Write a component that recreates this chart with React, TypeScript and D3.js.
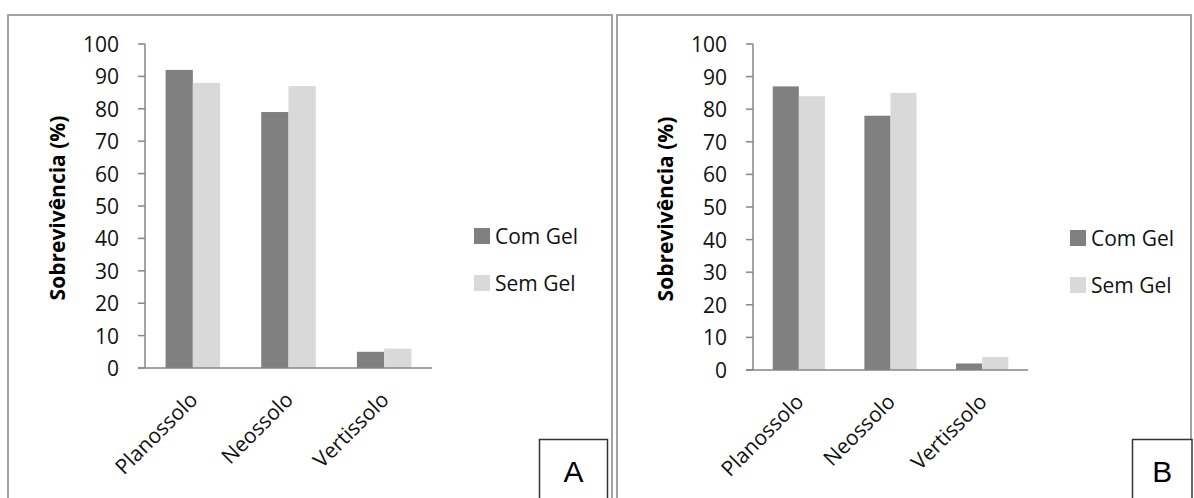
import React from "react";
import * as d3 from "d3";

const categories = ["Planossolo", "Neossolo", "Vertissolo"];
const seriesNames = ["Com Gel", "Sem Gel"];
const comGelA = [92, 79, 5];
const semGelA = [88, 87, 6];
const comGelB = [87, 78, 2];
const semGelB = [84, 85, 4];
const yTicks = [0, 10, 20, 30, 40, 50, 60, 70, 80, 90, 100];
const seriesColors = ["#808080", "#d9d9d9"];
const panelLetters = ["A", "B"];
const yTitle = "Sobrevivência (%)";

const FONT = "'Open Sans', 'Noto Sans', sans-serif";

type Layout = {
  px0: number; px1: number; top: number;
  ax0: number; ax1: number; yTop: number; yBot: number;
  legX: number; legY: number; titleX: number;
  boxX0: number; boxX1: number; boxTop: number;
};

const layouts: Layout[] = [
  { px0: 8, px1: 612, top: 15, ax0: 145, ax1: 432, yTop: 44, yBot: 368, legX: 474, legY: 228, titleX: 57, boxX0: 539.5, boxX1: 607.5, boxTop: 439.5 },
  { px0: 617, px1: 1191, top: 15, ax0: 753, ax1: 1028, yTop: 44, yBot: 370, legX: 1070, legY: 230, titleX: 665, boxX0: 1132.5, boxX1: 1192, boxTop: 439.5 },
];

function Panel({ L, values, letter }: { L: Layout; values: number[][]; letter: string }) {
  const y = d3.scaleLinear().domain([0, 100]).range([L.yBot, L.yTop]);
  const x0 = d3.scaleBand<string>().domain(categories).range([L.ax0, L.ax1]).paddingInner(0.43).paddingOuter(0.215);
  const x1 = d3.scaleBand<string>().domain(seriesNames).range([0, x0.bandwidth()]);
  const axisColor = "#868686";
  const textColor = "#111";
  return (
    <g>
      <rect x={L.px0} y={L.top} width={L.px1 - L.px0} height={600} fill="#fff" stroke="#a3a3a3" strokeWidth={2} />
      {categories.map((c, ci) =>
        seriesNames.map((s, si) => (
          <rect key={c + s} x={(x0(c) as number) + (x1(s) as number)} y={y(values[si][ci])}
            width={x1.bandwidth()} height={L.yBot - y(values[si][ci])} fill={seriesColors[si]} />
        ))
      )}
      <line x1={L.ax0} x2={L.ax0} y1={L.yTop} y2={L.yBot} stroke={axisColor} strokeWidth={1.5} />
      <line x1={L.ax0 - 7} x2={L.ax1} y1={L.yBot} y2={L.yBot} stroke={axisColor} strokeWidth={1.5} />
      {yTicks.map((t) => (
        <g key={t}>
          <line x1={L.ax0 - 7} x2={L.ax0} y1={y(t)} y2={y(t)} stroke={axisColor} strokeWidth={1.5} />
          <text x={L.ax0 - 26} y={y(t)} textAnchor="end" dominantBaseline="central" fontFamily={FONT} fontSize={21} fill={textColor}>{t}</text>
        </g>
      ))}
      {categories.map((c) => {
        const cx = (x0(c) as number) + x0.bandwidth() / 2 + 6;
        const cy = L.yBot + 33;
        return (
          <text key={c} x={cx} y={cy} transform={`rotate(-45 ${cx} ${cy})`} textAnchor="end" fontFamily={FONT} fontSize={21} fill={textColor}>{c}</text>
        );
      })}
      <text x={L.titleX} y={(L.yTop + L.yBot) / 2 + 2} transform={`rotate(-90 ${L.titleX} ${(L.yTop + L.yBot) / 2 + 2})`} textAnchor="middle" dominantBaseline="central" fontFamily={FONT} fontWeight="bold" fontSize={21} fill="#000">{yTitle}</text>
      {seriesNames.map((s, si) => (
        <g key={s}>
          <rect x={L.legX} y={L.legY + si * 47} width={16} height={16} fill={seriesColors[si]} />
          <text x={L.legX + 21} y={L.legY + si * 47 + 8} dominantBaseline="central" fontFamily={FONT} fontSize={21} fill={textColor}>{s}</text>
        </g>
      ))}
      <rect x={L.boxX0} y={L.boxTop} width={L.boxX1 - L.boxX0} height={100} fill="#fff" stroke="#333" strokeWidth={1.5} />
      <text x={(L.boxX0 + Math.min(L.boxX1, 1192)) / 2} y={482} textAnchor="middle" fontFamily="'Liberation Sans', Arial, sans-serif" fontSize={30} fill="#000">{letter}</text>
    </g>
  );
}

export default function App() {
  const valuesList = [[comGelA, semGelA], [comGelB, semGelB]];
  return (
    <svg width={1194} height={498} style={{ position: "absolute", left: 0, top: 0, background: "#fff" }}>
      <rect x={0} y={0} width={1194} height={498} fill="#fff" />
      {layouts.map((L, i) => (
        <Panel key={i} L={L} values={valuesList[i]} letter={panelLetters[i]} />
      ))}
    </svg>
  );
}
